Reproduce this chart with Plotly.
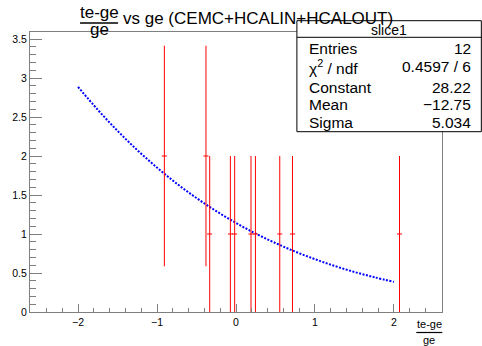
import plotly.graph_objects as go

# ---- data ----
pt_x = [-0.907, -0.38, -0.333, -0.071, -0.017, 0.19, 0.246, 0.554, 0.715, 2.07]
pt_y = [2, 2, 1, 1, 1, 1, 1, 1, 1, 1]
pt_err = [1.414, 1.414, 1, 1, 1, 1, 1, 1, 1, 1]
pt_halfwidth = [0.032] * len(pt_x)

fit_x = [-2, -1.75, -1.5, -1.25, -1, -0.75, -0.5, -0.25, 0, 0.25, 0.5, 0.75, 1, 1.25, 1.5, 1.75, 2]
fit_y = [2.886, 2.593, 2.323, 2.076, 1.852, 1.646, 1.461, 1.293, 1.142, 1.005, 0.884,
         0.774, 0.677, 0.590, 0.513, 0.446, 0.386]

stats_labels = ["Entries", "χ<sup>2</sup> / ndf", "Constant", "Mean", "Sigma"]
stats_values = ["12", "0.4597 / 6", "28.22", "−12.75", "5.034"]
stats_title = "slice1"

x_range = [-2.608, 2.608]
y_range = [0, 3.59]

W, H = 482, 346
L, R, T, B = 30, 441.7, 32, 312


def px(x):
    return (x - L) / (R - L)


def py(y):
    return (B - y) / (B - T)


FONT = "Liberation Sans, Arial, sans-serif"
GRAY = "#7f7f7f"

fig = go.Figure()
fig.add_trace(go.Scatter(
    x=fit_x, y=fit_y, mode="lines", line=dict(color="blue", width=2, dash="2px,1.5px", shape="spline"),
    hoverinfo="skip", showlegend=False))
fig.add_trace(go.Scatter(
    x=pt_x, y=pt_y, mode="markers", marker=dict(color="red", size=1, opacity=0),
    error_y=dict(type="data", array=pt_err, color="red", thickness=1, width=0),
    error_x=dict(type="data", array=pt_halfwidth, color="red", thickness=1, width=0),
    showlegend=False))

axis_common = dict(showgrid=False, zeroline=False, showline=True, linecolor=GRAY, linewidth=1,
                   mirror=True, ticks="inside", tickcolor=GRAY, tickfont=dict(family=FONT, size=10.5, color="black"))

fig.update_xaxes(range=x_range, tickvals=[-2, -1, 0, 1, 2], ticktext=["−2", "−1", "0", "1", "2"],
                 ticklen=8, minor=dict(ticks="inside", ticklen=4, dtick=0.2, tick0=0, tickcolor=GRAY),
                 **axis_common)
fig.update_yaxes(range=y_range, tickvals=[0, 0.5, 1, 1.5, 2, 2.5, 3, 3.5],
                 ticktext=["0", "0.5", "1", "1.5", "2", "2.5", "3", "3.5"],
                 ticklen=12, minor=dict(ticks="inside", ticklen=6, dtick=0.1, tick0=0, tickcolor=GRAY),
                 **axis_common)

shapes = []
annotations = []

# title
annotations.append(dict(text="te-ge", x=px(99), y=py(12), xref="paper", yref="paper",
                        showarrow=False, font=dict(family=FONT, size=17, color="black"),
                        xanchor="center", yanchor="middle"))
annotations.append(dict(text="ge", x=px(99), y=py(29), xref="paper", yref="paper",
                        showarrow=False, font=dict(family=FONT, size=17, color="black"),
                        xanchor="center", yanchor="middle"))
shapes.append(dict(type="line", xref="paper", yref="paper", x0=px(80), x1=px(118), y0=py(23), y1=py(23),
                   line=dict(color="black", width=1.5)))
annotations.append(dict(text="vs ge (CEMC+HCALIN+HCALOUT)", x=px(121), y=py(19), xref="paper", yref="paper",
                        showarrow=False, font=dict(family=FONT, size=17, color="black"),
                        xanchor="left", yanchor="middle"))

# x-axis title
annotations.append(dict(text="te-ge", x=px(429), y=py(323.5), xref="paper", yref="paper",
                        showarrow=False, font=dict(family=FONT, size=11, color="black"),
                        xanchor="center", yanchor="middle"))
annotations.append(dict(text="ge", x=px(429), y=py(339.5), xref="paper", yref="paper",
                        showarrow=False, font=dict(family=FONT, size=11, color="black"),
                        xanchor="center", yanchor="middle"))
shapes.append(dict(type="line", xref="paper", yref="paper", x0=px(416), x1=px(442), y0=py(332.5), y1=py(332.5),
                   line=dict(color="black", width=1.2)))

# stats box
bx0, bx1, by0, by1 = 296.7, 481, 20.7, 131.7
shapes.append(dict(type="rect", xref="paper", yref="paper", x0=px(bx0), x1=px(bx1), y0=py(by0), y1=py(by1),
                   line=dict(color="black", width=1), fillcolor="white", layer="above"))
shapes.append(dict(type="line", xref="paper", yref="paper", x0=px(bx0), x1=px(bx1), y0=py(37.3), y1=py(37.3),
                   line=dict(color="black", width=1)))
annotations.append(dict(text=stats_title, x=px((bx0 + bx1) / 2), y=py(30), xref="paper", yref="paper",
                        showarrow=False, font=dict(family=FONT, size=14, color="black"),
                        xanchor="center", yanchor="middle"))
row_y = [48.5, 66.5, 87, 105, 122.5]
for lab, val, yy in zip(stats_labels, stats_values, row_y):
    annotations.append(dict(text=lab, x=px(307), y=py(yy), xref="paper", yref="paper", showarrow=False,
                            font=dict(family=FONT, size=15.5, color="black"), xanchor="left", yanchor="middle"))
    annotations.append(dict(text=val, x=px(473), y=py(yy), xref="paper", yref="paper", showarrow=False,
                            font=dict(family=FONT, size=15.5, color="black"), xanchor="right", yanchor="middle"))

fig.update_layout(width=W, height=H, margin=dict(l=L, r=W - R, t=T, b=H - B),
                  paper_bgcolor="white", plot_bgcolor="white",
                  shapes=shapes, annotations=annotations, showlegend=False)

fig.write_html("out.html")
